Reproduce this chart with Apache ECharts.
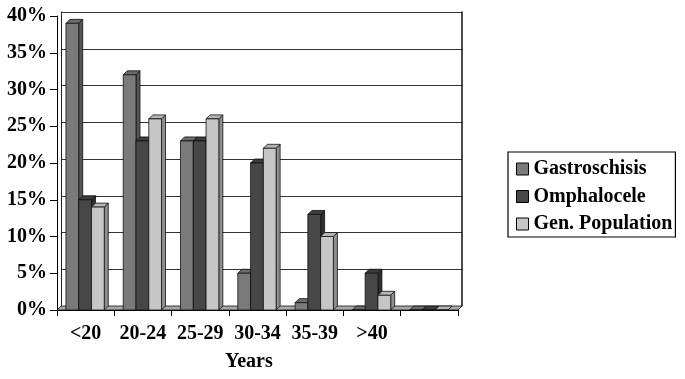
<!DOCTYPE html>
<html>
<head>
<meta charset="utf-8">
<script src="https://cdn.jsdelivr.net/npm/echarts@6/dist/echarts.min.js"></script>
<style>
html,body{margin:0;padding:0;background:#fff;}
#chart{width:685px;height:379px;}
</style>
</head>
<body>
<div id="chart"></div>
<script>
const categories = ['<20', '20-24', '25-29', '30-34', '35-39', '>40', ''];
const gastroschisis = [39, 32, 23, 5, 1, 0, 0];
const omphalocele = [15, 23, 23, 20, 13, 5, 0];
const genPopulation = [14, 26, 26, 22, 10, 2, 0];
const yTicks = [0, 5, 10, 15, 20, 25, 30, 35, 40];

const FONT = 'Liberation Serif';
const FS = 20;
const DEPTH = 4;
const faceColors = [
  { front: '#7a7a7a', side: '#555555', top: '#6a6a6a' },
  { front: '#474747', side: '#2e2e2e', top: '#3c3c3c' },
  { front: '#c6c6c6', side: '#8f8f8f', top: '#b4b4b4' }
];

function renderBar(params, api) {
  const cat = api.value(0), val = api.value(1);
  const band = api.size([1, 0])[0];
  const base = api.coord([cat, 0]);
  const top = api.coord([cat, val]);
  const bw = band * 0.223;
  const x0 = base[0] - band * 0.344 + params.seriesIndex * bw;
  const x1 = x0 + bw;
  const yb = base[1], yt = top[1];
  const c = faceColors[params.seriesIndex];
  const st = { stroke: '#111', lineWidth: 0.8 };
  return {
    type: 'group',
    children: [
      { type: 'polygon', shape: { points: [[x1, yb], [x1 + DEPTH, yb - DEPTH], [x1 + DEPTH, yt - DEPTH], [x1, yt]] },
        style: Object.assign({ fill: c.side }, st) },
      { type: 'polygon', shape: { points: [[x0, yt], [x1, yt], [x1 + DEPTH, yt - DEPTH], [x0 + DEPTH, yt - DEPTH]] },
        style: Object.assign({ fill: c.top }, st) },
      { type: 'rect', shape: { x: x0, y: yt, width: bw, height: yb - yt },
        style: Object.assign({ fill: c.front }, st) }
    ]
  };
}

function renderFloor(params, api) {
  const cs = params.coordSys;
  const x = cs.x, y = cs.y + cs.height, w = cs.width;
  return {
    type: 'group',
    children: [
      { type: 'polygon', shape: { points: [[x, y], [x + w, y], [x + w + DEPTH, y - DEPTH], [x + DEPTH, y - DEPTH]] },
        style: { fill: '#a8a8a8', stroke: '#111', lineWidth: 0.8 } }
    ]
  };
}

function barSeries(name, values, idx) {
  return {
    name: name,
    type: 'custom',
    xAxisIndex: 0, yAxisIndex: 0,
    z: 3,
    renderItem: renderBar,
    itemStyle: { color: faceColors[idx].front, borderColor: '#000', borderWidth: 1 },
    data: values.map((v, i) => [i, v])
  };
}

const chart = echarts.init(document.getElementById('chart'), null, { renderer: 'canvas' });
chart.setOption({
  animation: false,
  backgroundColor: '#fff',
  title: {
    text: 'Years', left: 225, top: 352, padding: 0,
    textStyle: { fontFamily: FONT, fontWeight: 'bold', fontSize: FS, color: '#000' }
  },
  grid: [
    { left: 57, right: 227, top: 16, bottom: 69 },
    { left: 61, right: 223, top: 12, bottom: 73 }
  ],
  legend: {
    orient: 'vertical',
    left: 508, top: 152,
    padding: [7, 3, 3, 8],
    itemWidth: 12, itemHeight: 12, itemGap: 7.5,
    borderColor: '#000', borderWidth: 1.2,
    icon: 'rect',
    itemStyle: { borderColor: '#000', borderWidth: 1 },
    textStyle: { fontFamily: FONT, fontWeight: 'bold', fontSize: FS, color: '#000', lineHeight: 20 },
    data: ['Gastroschisis', 'Omphalocele', 'Gen. Population']
  },
  xAxis: [
    {
      type: 'category', gridIndex: 0, data: categories, boundaryGap: true,
      axisLine: { show: true, lineStyle: { color: '#000', width: 1 } },
      axisTick: { show: true, length: 6, alignWithLabel: false, lineStyle: { color: '#000' } },
      axisLabel: { margin: 14, fontFamily: FONT, fontWeight: 'bold', fontSize: FS, color: '#000', interval: 0 },
      splitLine: { show: false }
    },
    {
      type: 'category', gridIndex: 1, data: categories,
      axisLine: { show: false }, axisTick: { show: false }, axisLabel: { show: false }
    }
  ],
  yAxis: [
    {
      type: 'value', gridIndex: 0, min: 0, max: 40, interval: 5,
      axisLine: { show: true, lineStyle: { color: '#000', width: 1 } },
      axisTick: { show: true, length: 7, lineStyle: { color: '#000' } },
      axisLabel: {
        margin: 10, fontFamily: FONT, fontWeight: 'bold', fontSize: FS, color: '#000',
        formatter: function (v) { return yTicks.indexOf(v) >= 0 ? v + '%' : ''; }
      },
      splitLine: { show: false }
    },
    {
      type: 'value', gridIndex: 1, min: 0, max: 40, interval: 5, position: 'left',
      axisLine: { show: true, lineStyle: { color: '#222', width: 1 } },
      axisTick: { show: false }, axisLabel: { show: false },
      splitLine: { show: true, lineStyle: { color: '#333', width: 1 } }
    },
    {
      type: 'value', gridIndex: 1, min: 0, max: 40, interval: 5, position: 'right',
      axisLine: { show: true, lineStyle: { color: '#111', width: 1.5 } },
      axisTick: { show: false }, axisLabel: { show: false },
      splitLine: { show: false }
    }
  ],
  series: [
    barSeries('Gastroschisis', gastroschisis, 0),
    barSeries('Omphalocele', omphalocele, 1),
    barSeries('Gen. Population', genPopulation, 2),
    {
      name: 'floor', type: 'custom', xAxisIndex: 0, yAxisIndex: 0, z: 1,
      renderItem: renderFloor, data: [[0, 0]], silent: true
    }
  ]
});
</script>
</body>
</html>
